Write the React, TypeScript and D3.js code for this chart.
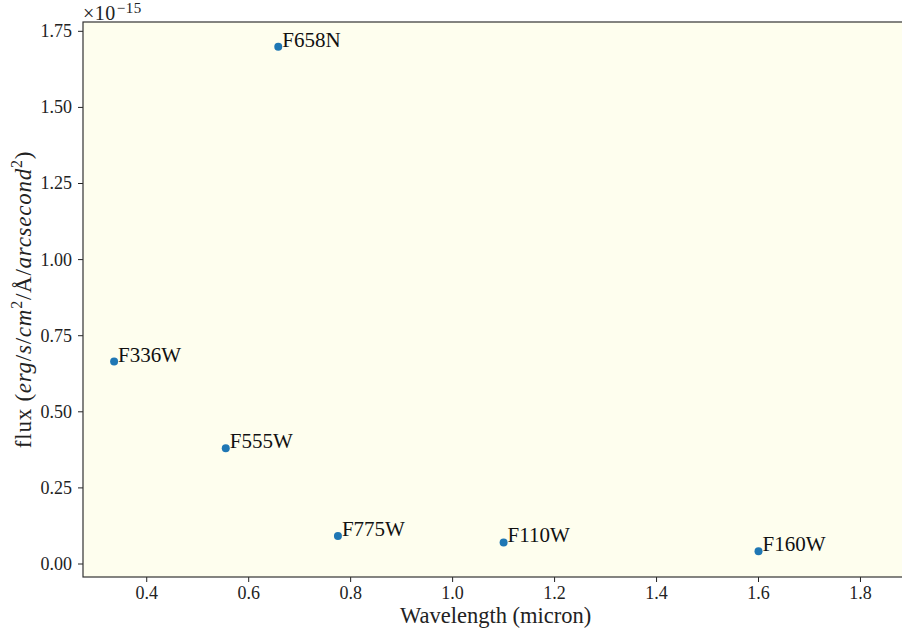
import React from "react";
import * as d3 from "d3";

// Filter photometry: central wavelength (micron) and surface-brightness flux (×1e-15)
const filters = ["F336W", "F555W", "F658N", "F775W", "F110W", "F160W"];
const wavelengths = [0.336, 0.555, 0.658, 0.775, 1.1, 1.6];
const fluxes = [0.665, 0.38, 1.699, 0.092, 0.071, 0.042];

const xTicks = [0.4, 0.6, 0.8, 1.0, 1.2, 1.4, 1.6, 1.8];
const yTicks = [0, 0.25, 0.5, 0.75, 1.0, 1.25, 1.5, 1.75];

const W = 902;
const H = 636;
const serif: React.CSSProperties = { fontFamily: '"Liberation Serif"' };

const left = 83, right = 908.4, top = 22, bottom = 577;
const x = d3.scaleLinear().domain([0.275, 1.894]).range([left, right]);
const y = d3.scaleLinear().domain([-0.0427, 1.7806]).range([bottom, top]);
const fx = d3.format(".1f");
const fy = d3.format(".2f");

export default function App() {
  const data = filters.map((f, i) => ({ f, w: wavelengths[i], v: fluxes[i] }));
  return (
    <svg width={W} height={H} style={{ position: "absolute", left: 0, top: 0, background: "#fff" }}>
      {/* plot background */}
      <rect x={left} y={top} width={right - left} height={bottom - top} fill="#fefeee" />

      {/* x ticks */}
      {xTicks.map(t => (
        <g key={"x" + t} transform={`translate(${x(t)},${bottom})`}>
          <line y2={5} stroke="#222" />
          <text y={22} textAnchor="middle" fontSize={18} fill="#222" style={serif}>{fx(t)}</text>
        </g>
      ))}

      {/* y ticks */}
      {yTicks.map(t => (
        <g key={"y" + t} transform={`translate(${left},${y(t)})`}>
          <line x2={-5} stroke="#222" />
          <text x={-11} dy="0.33em" textAnchor="end" fontSize={18} fill="#222" style={serif}>{fy(t)}</text>
        </g>
      ))}

      {/* spines */}
      <rect x={left} y={top} width={right - left} height={bottom - top} fill="none" stroke="#333" strokeWidth={1.2} />

      {/* points */}
      {data.map(d => (
        <circle key={d.f} cx={x(d.w)} cy={y(d.v)} r={4} fill="#1f77b4" />
      ))}

      {/* point labels */}
      {data.map(d => (
        <text key={"l" + d.f} x={x(d.w) + 4} y={y(d.v)} fontSize={21} fill="#111" style={serif}>{d.f}</text>
      ))}

      {/* scale offset */}
      <text x={left} y={19.5} fontSize={20} fill="#222" style={serif} letterSpacing={0.5}>
        ×10<tspan fontSize={15} dy={-7} dx={1}>−15</tspan>
      </text>

      {/* x label */}
      <text x={(left + right) / 2} y={623} textAnchor="middle" fontSize={22.5} fill="#222" style={serif}>
        Wavelength (micron)
      </text>

      {/* y label */}
      <text transform={`translate(31,${(top + bottom) / 2}) rotate(-90)`} textAnchor="middle" fontSize={23} letterSpacing={0.75} fill="#222" style={serif}>
        flux (<tspan fontStyle="italic">erg</tspan>/<tspan fontStyle="italic">s</tspan>/<tspan fontStyle="italic">cm</tspan>
        <tspan fontSize={16} dy={-9}>2</tspan>
        <tspan dy={9}>/Å/</tspan>
        <tspan fontStyle="italic">arcsecond</tspan>
        <tspan fontSize={16} dy={-9}>2</tspan>
        <tspan dy={9}>)</tspan>
      </text>
    </svg>
  );
}
